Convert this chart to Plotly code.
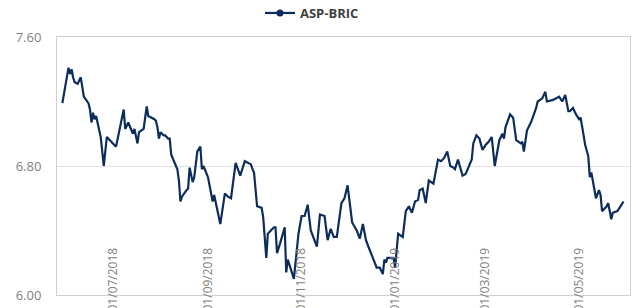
import plotly.graph_objects as go

dates = [
    "2018-05-29", "2018-06-02", "2018-06-03", "2018-06-04", "2018-06-05", "2018-06-06",
    "2018-06-08", "2018-06-10", "2018-06-12", "2018-06-15", "2018-06-16", "2018-06-17",
    "2018-06-18", "2018-06-19", "2018-06-20", "2018-06-21", "2018-06-23", "2018-06-25",
    "2018-06-27", "2018-07-01", "2018-07-03", "2018-07-08", "2018-07-09", "2018-07-11",
    "2018-07-14", "2018-07-15", "2018-07-17", "2018-07-18", "2018-07-21", "2018-07-23",
    "2018-07-24", "2018-07-28", "2018-07-29", "2018-07-30", "2018-07-31", "2018-08-01",
    "2018-08-03", "2018-08-04", "2018-08-06", "2018-08-07", "2018-08-08", "2018-08-12",
    "2018-08-13", "2018-08-14", "2018-08-15", "2018-08-18", "2018-08-19", "2018-08-20",
    "2018-08-22", "2018-08-23", "2018-08-25", "2018-08-27", "2018-08-28", "2018-08-29",
    "2018-09-01", "2018-09-04", "2018-09-05", "2018-09-09", "2018-09-12", "2018-09-14",
    "2018-09-16", "2018-09-19", "2018-09-22", "2018-09-25", "2018-09-29", "2018-09-30",
    "2018-10-01", "2018-10-03", "2018-10-06", "2018-10-07", "2018-10-09", "2018-10-10",
    "2018-10-14", "2018-10-15", "2018-10-16", "2018-10-18", "2018-10-21", "2018-10-22",
    "2018-10-23", "2018-10-25", "2018-10-27", "2018-10-30", "2018-11-01", "2018-11-03",
    "2018-11-05", "2018-11-07", "2018-11-11", "2018-11-13", "2018-11-16", "2018-11-18",
    "2018-11-20", "2018-11-22", "2018-11-24", "2018-11-27", "2018-11-29", "2018-12-01",
    "2018-12-04", "2018-12-07", "2018-12-09", "2018-12-11", "2018-12-13", "2018-12-15",
    "2018-12-18", "2018-12-20", "2018-12-22", "2018-12-24", "2018-12-25", "2018-12-26",
    "2018-12-27", "2018-12-31", "2019-01-01", "2019-01-03", "2019-01-06", "2019-01-08",
    "2019-01-10", "2019-01-12", "2019-01-14", "2019-01-16", "2019-01-17", "2019-01-19",
    "2019-01-21", "2019-01-23", "2019-01-26", "2019-01-29", "2019-01-31", "2019-02-02",
    "2019-02-04", "2019-02-06", "2019-02-08", "2019-02-09", "2019-02-11", "2019-02-12",
    "2019-02-14", "2019-02-16", "2019-02-18", "2019-02-20", "2019-02-21", "2019-02-23",
    "2019-02-25", "2019-02-27", "2019-03-01", "2019-03-03", "2019-03-05", "2019-03-07",
    "2019-03-10", "2019-03-12", "2019-03-13", "2019-03-14", "2019-03-17", "2019-03-19",
    "2019-03-21", "2019-03-24", "2019-03-25", "2019-03-26", "2019-03-28", "2019-03-31",
    "2019-04-03", "2019-04-04", "2019-04-07", "2019-04-09", "2019-04-10", "2019-04-14",
    "2019-04-18", "2019-04-20", "2019-04-22", "2019-04-24", "2019-04-25", "2019-04-27",
    "2019-04-29", "2019-05-01", "2019-05-02", "2019-05-03", "2019-05-05", "2019-05-07",
    "2019-05-08", "2019-05-09", "2019-05-10", "2019-05-12", "2019-05-14", "2019-05-15",
    "2019-05-16", "2019-05-19", "2019-05-20", "2019-05-22", "2019-05-23", "2019-05-26",
    "2019-05-28", "2019-05-30",
]

asp_bric = [
    7.19, 7.41, 7.37, 7.40, 7.35, 7.32,
    7.31, 7.35, 7.23, 7.19, 7.15, 7.07,
    7.13, 7.09, 7.11, 7.06, 6.98, 6.80,
    6.98, 6.94, 6.92, 7.15, 7.03, 7.07,
    7.00, 7.03, 6.94, 7.01, 7.03, 7.17,
    7.11, 7.09, 7.08, 7.04, 6.97, 7.01,
    6.99, 6.99, 6.97, 6.97, 6.87, 6.78,
    6.71, 6.58, 6.61, 6.65, 6.66, 6.79,
    6.70, 6.73, 6.89, 6.92, 6.78, 6.80,
    6.73, 6.58, 6.62, 6.44, 6.63, 6.61,
    6.60, 6.82, 6.74, 6.83, 6.81, 6.78,
    6.76, 6.55, 6.54, 6.48, 6.23, 6.38,
    6.42, 6.42, 6.26, 6.32, 6.42, 6.14,
    6.22, 6.16, 6.10, 6.38, 6.49, 6.49,
    6.56, 6.40, 6.30, 6.50, 6.49, 6.34,
    6.41, 6.36, 6.36, 6.57, 6.60, 6.68,
    6.45, 6.40, 6.35, 6.44, 6.34, 6.29,
    6.21, 6.17, 6.17, 6.13, 6.22, 6.20,
    6.23, 6.23, 6.17, 6.38, 6.36, 6.52,
    6.55, 6.51, 6.58, 6.59, 6.65, 6.66,
    6.57, 6.71, 6.69, 6.84, 6.83, 6.85,
    6.89, 6.80, 6.79, 6.78, 6.84, 6.81,
    6.74, 6.75, 6.80, 6.84, 6.94, 6.99,
    6.97, 6.90, 6.93, 6.95, 6.98, 6.80,
    6.96, 7.00, 6.97, 7.04, 7.12, 7.10,
    6.96, 6.94, 6.95, 6.89, 7.02, 7.08,
    7.16, 7.20, 7.22, 7.26, 7.20, 7.21,
    7.23, 7.20, 7.24, 7.14, 7.14, 7.16,
    7.12, 7.09, 7.10, 7.05, 6.93, 6.86,
    6.73, 6.76, 6.70, 6.60, 6.65, 6.62,
    6.52, 6.55, 6.57, 6.47, 6.51, 6.52,
    6.55, 6.58,
]

series_name = "ASP-BRIC"
x_tick_dates = ["2018-07-01", "2018-09-01", "2018-11-01", "2019-01-01", "2019-03-01", "2019-05-01"]
x_tick_labels = ["01/07/2018", "01/09/2018", "01/11/2018", "01/01/2019", "01/03/2019", "01/05/2019"]
y_ticks = [6.00, 6.80, 7.60]

LINE = "#0c2d5c"
GRAY = "#7f7f7f"
FONT = "Open Sans"

fig = go.Figure()
fig.add_trace(go.Scatter(
    x=dates, y=asp_bric, mode="lines", name=series_name,
    line=dict(color=LINE, width=2.2), showlegend=False,
))
# legend entry (line with marker, as in the original legend)
fig.add_trace(go.Scatter(
    x=[None], y=[None], mode="lines+markers", name=series_name,
    line=dict(color=LINE, width=2.2), marker=dict(color=LINE, size=7),
    showlegend=True,
))

fig.update_layout(
    width=636, height=308,
    template="none",
    paper_bgcolor="white", plot_bgcolor="white",
    margin=dict(l=57, r=6, t=37, b=13, autoexpand=False),
    font=dict(family=FONT, size=13, color=GRAY),
    showlegend=True,
    legend=dict(
        orientation="h", x=0.445, xanchor="center", y=1.093, yanchor="middle",
        font=dict(family=FONT, size=13, color="#404040", weight="bold"),
        bgcolor="rgba(0,0,0,0)", itemwidth=30,
    ),
    xaxis=dict(
        type="date",
        range=["2018-05-25 12:00", "2019-06-03 05:00"],
        tickvals=x_tick_dates, ticktext=x_tick_labels,
        tickangle=-90, ticks="",
        ticklabelstandoff=-53,
        tickfont=dict(family=FONT, size=12, color=GRAY),
        showgrid=False, zeroline=False,
        showline=True, linecolor="#d0d0d0", linewidth=1, mirror=True,
        automargin=False,
    ),
    yaxis=dict(
        range=[6.0, 7.6],
        tickvals=y_ticks, tickformat=".2f",
        ticks="", ticklabelstandoff=12,
        tickfont=dict(family=FONT, size=13, color=GRAY),
        showgrid=True, gridcolor="#e3e3e3", gridwidth=1,
        zeroline=False,
        showline=True, linecolor="#d0d0d0", linewidth=1, mirror=True,
        automargin=False,
    ),
)

fig.write_html(
    "out.html",
    config={"displayModeBar": False},
    post_script="document.body.style.margin='0';",
)
